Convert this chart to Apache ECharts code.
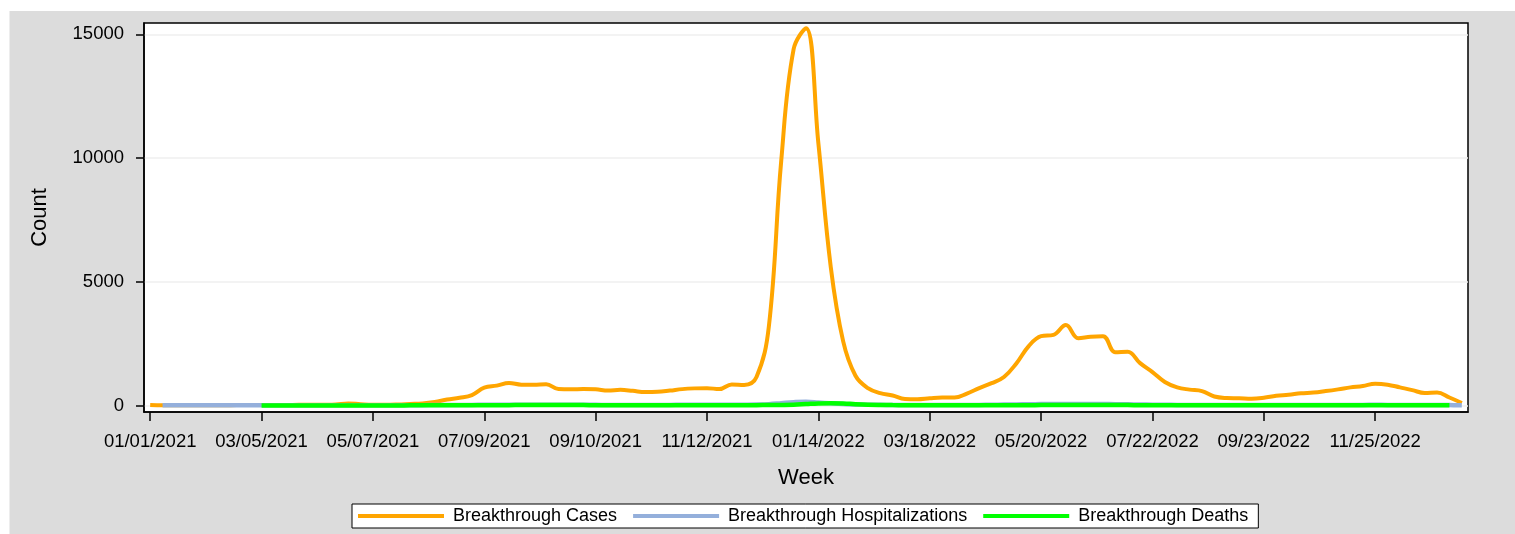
<!DOCTYPE html>
<html>
<head>
<meta charset="utf-8">
<script src="https://cdn.jsdelivr.net/npm/echarts@6/dist/echarts.min.js"></script>
<style>
html,body{margin:0;padding:0;background:#fff;}
#c{width:1515px;height:534px;}
</style>
</head>
<body>
<div id="c"></div>
<script>
// Weekly categories starting 01/01/2021 (107 weeks)
const startYear = 2021, startMonth = 0, startDay = 1, weekCount = 107;
const tickLabelEvery = 9;
const yTickValues = [0, 5000, 10000, 15000];

const casesData = [
  20, 10, 10, 10, 10, 10, 10, 15, 15, 20,
  20, 20, 25, 25, 30, 40, 80, 50, 30, 30,
  40, 60, 80, 140, 240, 310, 420, 720, 800, 910,
  840, 840, 860, 660, 650, 660, 650, 600, 630, 590,
  540, 550, 600, 660, 690, 700, 660, 850, 830, 1150,
  3200, 9900, 14400, 15250, 10600, 5600, 2600, 1200, 700, 500,
  400, 260, 250, 290, 320, 320, 480, 700, 900, 1150,
  1700, 2400, 2800, 2850, 3250, 2720, 2780, 2800, 2150, 2170,
  1710, 1350, 950, 730, 640, 580, 360, 300, 290, 270,
  310, 390, 430, 490, 520, 580, 650, 730, 790, 880,
  840, 730, 620, 500, 520, 320, 100
];
const hospData = [
  null, 3, 3, 3, 3, 3, 3, 4, 4, 5,
  5, 5, 6, 6, 6, 8, 10, 8, 8, 8,
  8, 10, 12, 15, 18, 20, 22, 25, 28, 30,
  28, 28, 28, 25, 25, 25, 24, 22, 22, 22,
  20, 20, 22, 24, 25, 25, 25, 28, 30, 35,
  50, 90, 130, 150, 120, 85, 55, 40, 30, 25,
  20, 18, 15, 15, 15, 15, 18, 22, 28, 35,
  40, 50, 55, 58, 62, 60, 60, 58, 50, 45,
  38, 32, 26, 22, 20, 18, 15, 14, 13, 13,
  13, 14, 15, 16, 17, 18, 19, 20, 22, 24,
  23, 22, 20, 18, 18, 14, 10
];
const deathsData = [
  null, null, null, null, null, null, null, null, null, 2,
  2, 2, 2, 2, 2, 2, 2, 2, 2, 2,
  2, 3, 3, 3, 4, 5, 6, 8, 10, 12,
  14, 15, 15, 14, 14, 13, 12, 12, 12, 12,
  11, 10, 10, 10, 10, 10, 10, 10, 11, 12,
  15, 20, 30, 55, 80, 92, 80, 50, 28, 18,
  14, 12, 10, 9, 8, 8, 8, 8, 9, 10,
  11, 12, 13, 14, 15, 15, 15, 15, 14, 13,
  12, 11, 10, 9, 8, 8, 7, 7, 7, 7,
  7, 7, 7, 7, 8, 8, 8, 8, 9, 9,
  9, 9, 8, 8, 7, 6, null
];

function pad(n){return (n<10?'0':'')+n;}
const categories = [];
for (let i = 0; i < weekCount; i++) {
  const d = new Date(Date.UTC(startYear, startMonth, startDay + 7*i));
  categories.push(pad(d.getUTCMonth()+1) + '/' + pad(d.getUTCDate()) + '/' + d.getUTCFullYear());
}

const FONT = '"Liberation Sans", Arial, sans-serif';
const chart = echarts.init(document.getElementById('c'), null, {renderer:'canvas'});
chart.setOption({
  backgroundColor: '#ffffff',
  animation: false,
  graphic: [{
    type: 'rect', z: -10, silent: true,
    shape: {x: 9.5, y: 11, width: 1506, height: 524},
    style: {fill: '#dcdcdc'}
  }],
  grid: {
    left: 144, top: 23, width: 1324, height: 389,
    show: true, backgroundColor: '#ffffff', borderColor: '#000', borderWidth: 1.5,
    containLabel: false, outerBoundsMode: 'none'
  },
  legend: {
    left: 352, top: 504,
    backgroundColor: '#ffffff', borderColor: '#000', borderWidth: 1,
    padding: [3, 10, 3, 6],
    itemGap: 16, itemWidth: 86, itemHeight: 4, icon: 'rect',
    textStyle: {fontFamily: FONT, fontSize: 18, color: '#000', padding: [0,0,0,4]},
    data: ['Breakthrough Cases', 'Breakthrough Hospitalizations', 'Breakthrough Deaths']
  },
  xAxis: {
    type: 'category', data: categories, boundaryGap: true,
    name: 'Week', nameLocation: 'middle', nameGap: 55,
    nameTextStyle: {fontFamily: FONT, fontSize: 22, color: '#000'},
    axisLine: {onZero: false, lineStyle: {color: '#000', width: 1.5}},
    axisTick: {show: true, interval: tickLabelEvery - 1, alignWithLabel: true, length: 9, lineStyle: {color: '#000', width: 1.5}},
    axisLabel: {interval: tickLabelEvery - 1, margin: 20, fontFamily: FONT, fontSize: 18.5, color: '#000'},
    splitLine: {show: false}
  },
  yAxis: {
    type: 'value', min: -265, max: 15460,
    name: 'Count', nameLocation: 'middle', nameGap: 93,
    nameTextStyle: {fontFamily: FONT, fontSize: 22, color: '#000'},
    axisLine: {show: true, lineStyle: {color: '#000', width: 1.5}},
    axisTick: {show: true, length: 8, customValues: yTickValues, lineStyle: {color: '#000', width: 1.5}},
    axisLabel: {margin: 20, customValues: yTickValues, formatter: function(v){return String(v);}, fontFamily: FONT, fontSize: 18.5, color: '#000'},
    splitLine: {show: true, lineStyle: {color: '#efefef', width: 1.5}}
  },
  series: [
    {name: 'Breakthrough Cases', type: 'line', data: casesData, smooth: 0.4, showSymbol: false,
     itemStyle: {color: '#FFA500'}, lineStyle: {color: '#FFA500', width: 4}},
    {name: 'Breakthrough Hospitalizations', type: 'line', data: hospData, smooth: 0.4, showSymbol: false,
     itemStyle: {color: '#94AFDB'}, lineStyle: {color: '#94AFDB', width: 4.5}},
    {name: 'Breakthrough Deaths', type: 'line', data: deathsData, smooth: 0.4, showSymbol: false,
     itemStyle: {color: '#00FF00'}, lineStyle: {color: '#00FF00', width: 4.5}}
  ]
});
</script>
</body>
</html>
